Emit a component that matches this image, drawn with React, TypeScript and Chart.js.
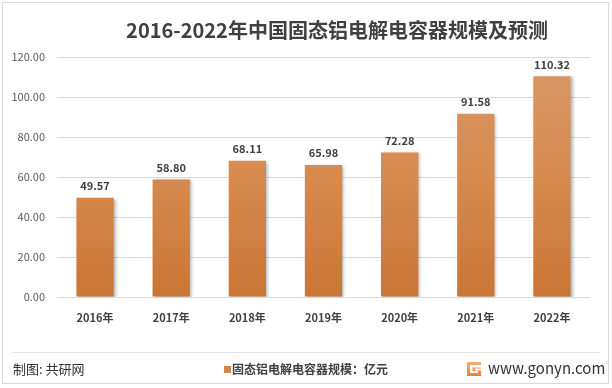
import React, { useEffect, useRef } from "react";
import { Chart, registerables } from "chart.js";

Chart.register(...registerables);

const categories = ["2016年", "2017年", "2018年", "2019年", "2020年", "2021年", "2022年"];
const values = [49.57, 58.8, 68.11, 65.98, 72.28, 91.58, 110.32];
const yTicks = [0, 20, 40, 60, 80, 100, 120];
const title = "2016-2022年中国固态铝电解电容器规模及预测";
const seriesName = "固态铝电解电容器规模：亿元";
const sourceText = "制图: 共研网";
const siteText = "www.gonyn.com";

const FONT = '"Noto Sans CJK SC", "Microsoft YaHei", sans-serif';

export default function App() {
  const ref = useRef<HTMLCanvasElement | null>(null);

  useEffect(() => {
    document.body.style.margin = "0";
    const canvas = ref.current!;
    const ctx0 = canvas.getContext("2d")!;

    const decor = {
      id: "decor",
      beforeDraw(chart: any) {
        const c = chart.ctx;
        c.save();
        c.fillStyle = "#ffffff";
        c.fillRect(0, 0, chart.width, chart.height);
        c.strokeStyle = "#D9D9D9";
        c.lineWidth = 1;
        c.strokeRect(2.5, 2.5, 606, 381);
        // title
        c.fillStyle = "#404040";
        c.font = `bold 20px ${FONT}`;
        c.textAlign = "center";
        c.textBaseline = "middle";
        c.fillText(title, 337, 30);
        c.restore();
      },
      beforeDatasetsDraw(chart: any) {
        const c = chart.ctx;
        c.save();
        c.shadowColor = "rgba(0,0,0,0.28)";
        c.shadowBlur = 3;
        c.shadowOffsetX = 2;
        c.shadowOffsetY = 1;
      },
      afterDatasetsDraw(chart: any) {
        const c = chart.ctx;
        c.restore();
        c.save();
        const meta = chart.getDatasetMeta(0);
        c.fillStyle = "#404040";
        c.font = `bold 11px ${FONT}`;
        c.textAlign = "center";
        c.textBaseline = "middle";
        meta.data.forEach((bar: any, i: number) => {
          c.fillText(values[i].toFixed(2), bar.x, bar.y - 12);
        });
        c.restore();
      },
      afterDraw(chart: any) {
        const c = chart.ctx;
        c.save();
        c.strokeStyle = "#E3E3E3";
        c.lineWidth = 1;
        c.beginPath();
        c.moveTo(12, 352.5);
        c.lineTo(600, 352.5);
        c.stroke();
        c.textBaseline = "middle";
        c.textAlign = "left";
        c.fillStyle = "#333333";
        c.font = `13px ${FONT}`;
        c.fillText(sourceText, 13, 369);
        // legend
        c.fillStyle = "#D2874A";
        c.fillRect(224, 366, 7, 7);
        c.fillStyle = "#404040";
        c.font = `bold 12px ${FONT}`;
        c.fillText(seriesName, 232, 369);
        // logo
        const g = c.createLinearGradient(0, 361, 0, 376);
        g.addColorStop(0, "#F6B27A");
        g.addColorStop(1, "#EE7B3A");
        c.fillStyle = g;
        c.beginPath();
        c.moveTo(467, 362);
        c.lineTo(481, 362);
        c.lineTo(481, 376);
        c.lineTo(467, 376);
        c.closePath();
        c.fill();
        c.fillStyle = "#ffffff";
        c.fillRect(470, 365, 11, 2.5);
        c.fillRect(470, 365, 2.5, 8);
        c.fillRect(470, 371, 8, 2);
        c.fillRect(475, 368.5, 6, 2);
        c.fillStyle = "#333333";
        c.font = `15px ${FONT}`;
        c.fillText(siteText, 488, 368);
        c.restore();
      },
    };

    const grad = ctx0.createLinearGradient(0, 57, 0, 297);
    grad.addColorStop(0, "#DA9866");
    grad.addColorStop(0.5, "#D68A4E");
    grad.addColorStop(1, "#C97636");

    const chart = new Chart(canvas, {
      type: "bar",
      data: {
        labels: categories,
        datasets: [
          {
            label: seriesName,
            data: values,
            backgroundColor: grad,
            barPercentage: 0.49,
            categoryPercentage: 1,
          },
        ],
      },
      options: {
        responsive: false,
        animation: false,
        layout: { padding: { top: 57, right: 22, left: 0, bottom: 0 } },
        plugins: { legend: { display: false }, title: { display: false }, tooltip: { enabled: false } },
        scales: {
          x: {
            grid: { display: false, drawTicks: false },
            border: { display: false },
            ticks: { color: "#404040", font: { family: FONT, size: 11, weight: "bold" }, padding: 14, maxRotation: 0 },
            afterFit(s: any) {
              s.height = 91;
            },
          },
          y: {
            min: 0,
            max: 120,
            afterBuildTicks(s: any) {
              s.ticks = yTicks.map((v) => ({ value: v }));
            },
            grid: { color: "#D9D9D9", drawTicks: false },
            border: { display: false },
            ticks: {
              color: "#595959",
              font: { family: FONT, size: 11 },
              padding: 12,
              callback: (v: any) => Number(v).toFixed(2),
            },
            afterFit(s: any) {
              s.width = 57;
            },
          },
        },
      },
      plugins: [decor],
    });
    return () => chart.destroy();
  }, []);

  return (
    <div style={{ width: 612, height: 388 }}>
      <canvas ref={ref} width={612} height={388} style={{ display: "block" }} />
    </div>
  );
}
